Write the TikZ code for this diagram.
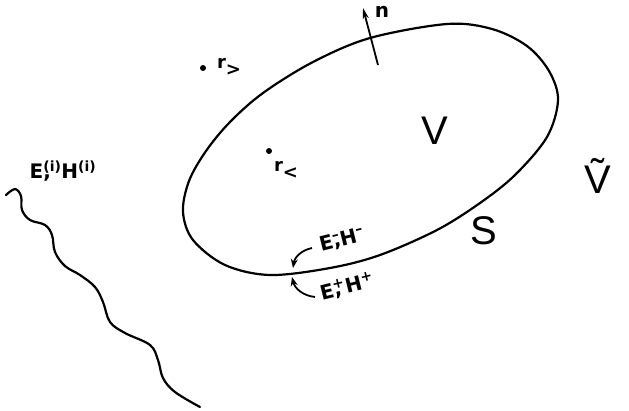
\documentclass[tikz,border=0pt]{standalone}
\usepackage{fontspec}
\setmainfont{Liberation Sans}
\newfontfamily\labfont{DejaVu Sans}
\usetikzlibrary{arrows.meta}
\tikzset{
  curve/.style={line width=2.2pt, line join=round, line cap=round},
  bold/.style={font=\labfont\bfseries\fontsize{20}{20}\selectfont, inner sep=0pt},
  rlab/.style={font=\labfont\bfseries\fontsize{18}{18}\selectfont, inner sep=0pt},
  big/.style={font=\fontsize{40}{40}\selectfont, inner sep=0pt},
  pt/.style={circle, fill=black, inner sep=0pt, minimum size=6pt},
  fieldarrow/.style={line width=1.8pt, -{Stealth[length=9pt,width=7pt]}}
}
\begin{document}
\begin{tikzpicture}[x=1pt,y=-1pt]
\useasboundingbox (0,0) rectangle (629,410);
% surface S
\draw[curve] plot[smooth cycle, tension=0.55] coordinates {
 (558,100) (547,137) (515,175) (480,203) (437,230) (380,255) (330,268)
 (270,275) (225,265) (193,240) (183,212) (189,181) (206,151) (230,122) (263,93)
 (313,62) (370,38) (447,24) (492,29) (527,46) (549,71)};
% incident wave
\draw[curve] plot[smooth, tension=0.6] coordinates {
 (6,195) (15,189) (21,196) (22,210) (30,220) (45,225) (52,235) (55,252)
 (65,266) (80,275) (95,287) (103,302) (110,322) (125,333) (150,345)
 (158,360) (163,378) (175,392) (200,407)};
\node[bold] (inc) at (63,171) {E\rlap{,}\textsuperscript{(i)}H\textsuperscript{(i)}};
% normal
\coordinate (nbase) at (378,65);
\coordinate (ntip) at (363,8);
\draw[line width=1.8pt, -{Stealth[length=11pt,width=6pt]}] (nbase) -- (ntip);
\node[bold] (n) at (382,12) {n};
% points
\node[pt] (rg) at (203,68) {};
\node[rlab] (rglab) at (229,67) {r\raisebox{-0.4em}{>}};
\node[pt] (rl) at (269,151) {};
\node[rlab] (rllab) at (286,170) {r\raisebox{-0.4em}{<}};
% volumes and surface
\node[big] (V) at (435,131) {V};
\node[big] (S) at (484,231) {S};
\node[big] (Vt) at (598,176) {\~{V}};
% fields at the surface
\node[bold, rotate=14] (em) at (342,240) {E\rlap{,}\textsuperscript{–}H\textsuperscript{–}};
\node[bold, rotate=14] (ep) at (347,287) {E\rlap{,}\textsuperscript{+}H\textsuperscript{+}};
\coordinate (emtip) at (293,268);
\coordinate (eptip) at (292,277);
\draw[fieldarrow] (312,248) to[bend right=35] (emtip);
\draw[fieldarrow] (315,297) to[bend left=35] (eptip);
\end{tikzpicture}
\end{document}
